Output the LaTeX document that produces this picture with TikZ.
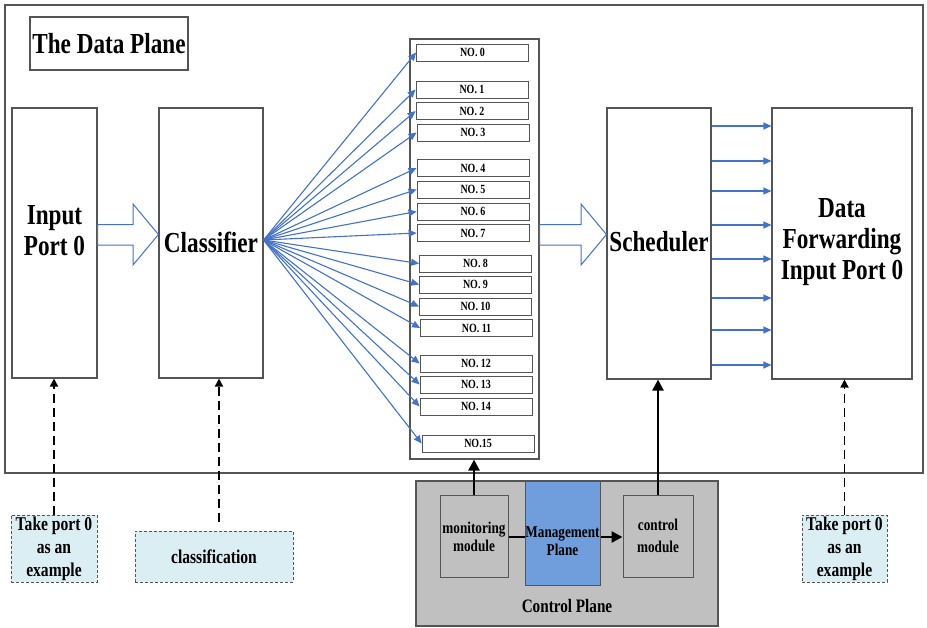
\documentclass[tikz,border=0pt]{standalone}
\usepackage{fontspec}
\setmainfont{Liberation Serif}[FakeStretch=0.8]
\usetikzlibrary{arrows.meta,calc}
\definecolor{fanblue}{RGB}{68,114,196}
\definecolor{notefill}{RGB}{218,238,243}
\definecolor{cpgray}{RGB}{192,192,192}
\definecolor{mgmtblue}{RGB}{112,157,219}
\definecolor{edge}{RGB}{85,85,85}
\begin{document}
\begin{tikzpicture}[x=1pt,y=-1pt,
  frame/.style={draw=edge, line width=1.1pt, inner sep=0pt},
  qbox/.style={draw=edge, line width=0.8pt, minimum width=112pt, minimum height=17pt, inner sep=0pt,
    font=\bfseries\fontsize{12.5}{14}\selectfont},
  bigtext/.style={font=\bfseries\fontsize{29}{31}\selectfont, align=center},
  note/.style={draw=edge, densely dashed, line width=0.7pt, fill=notefill, inner sep=0pt,
    font=\bfseries\fontsize{19.5}{23}\selectfont, align=center},
  modtext/.style={font=\bfseries\fontsize{16.5}{18}\selectfont, align=center},
  fan/.style={draw=fanblue, line width=1.1pt, -{Triangle[length=8pt,width=7pt]}},
  blk/.style={draw=black, line width=2.6pt, -{Triangle[length=11pt,width=11pt]}},
  dasharrow/.style={draw=black, line width=1.7pt, dash pattern=on 9pt off 5pt, -{Triangle[length=8pt,width=8pt]}},
  hollow/.style={draw=fanblue, line width=1pt, fill=white}
]
\useasboundingbox (0,0) rectangle (927,627);
\fill[white] (0,0) rectangle (927,627);

% data plane frame
\node[frame, minimum width=918pt, minimum height=468pt] (dp) at (464,239) {};
\node[frame, minimum width=158pt, minimum height=53pt, font=\bfseries\fontsize{29}{31}\selectfont] (title) at (109,43.5) {The Data Plane};

% main blocks
\node[frame, minimum width=85pt, minimum height=270pt] (inp) at (54.5,243) {};
\node[bigtext] (inpT) at (54.5,231) {Input\\Port 0};
\node[frame, minimum width=104pt, minimum height=270pt] (cls) at (211,243) {};
\node[bigtext] (clsT) at (211,242) {Classifier};
\node[frame, minimum width=129pt, minimum height=420pt] (queue) at (474.5,249) {};
\node[frame, minimum width=104pt, minimum height=271pt] (sch) at (659,243.5) {};
\node[bigtext] (schT) at (659,242) {Scheduler};
\node[frame, minimum width=140pt, minimum height=271pt] (fwd) at (842,243.5) {};
\node[bigtext] (fwdT) at (842,242) {Data\\Forwarding\\Input Port 0};

% queues
\foreach \i/\x/\y/\t in {0/472.5/52.5/NO. 0, 1/472/89.5/NO. 1, 2/472/111/NO. 2, 3/473/132.5/NO. 3,
  4/473/168/NO. 4, 5/473/189.5/NO. 5, 6/473/211.5/NO. 6, 7/473/233/NO. 7,
  8/475.5/263.5/NO. 8, 9/475.5/284.5/NO. 9, 10/475.5/306.5/NO. 10, 11/476.5/328/NO. 11,
  12/476/363.5/NO. 12, 13/476/384.5/NO. 13, 14/476/406.5/NO. 14, 15/478/443.5/NO.15}
  \node[qbox] (q\i) at (\x,\y) {\t};

% fan arrows
\coordinate (fo) at ($(cls.east)+(0,-3)$);
\foreach \i in {0,...,15} \draw[fan] (fo) -- (q\i.west);

% hollow block arrows
\draw[hollow] (inp.east |- 0,224.5) -- (133,224.5) -- (133,204) -- (cls.west |- 0,234.5) -- (133,265) -- (133,245) -- (inp.east |- 0,245) -- cycle;
\draw[hollow] (queue.east |- 0,224.5) -- (581,224.5) -- (581,204) -- (sch.west |- 0,234.5) -- (581,265) -- (581,245) -- (queue.east |- 0,245) -- cycle;

% scheduler to forwarding
\foreach \y in {126,161,191,225,259,298,330,365}
  \draw[fan] (sch.east |- 0,\y) -- (fwd.west |- 0,\y);

% control plane
\node[draw=edge, line width=1.1pt, fill=cpgray, minimum width=302pt, minimum height=145pt] (cp) at (567,553.5) {};
\node[font=\bfseries\fontsize{19}{20}\selectfont] (cpT) at (567,606) {Control Plane};
\node[draw=edge, line width=1pt, fill=cpgray, minimum width=68pt, minimum height=82pt] (mon) at (474,536) {};
\node[modtext] (monT) at (474,537) {monitoring\\module};
\node[draw=edge, line width=1pt, fill=mgmtblue, minimum width=75pt, minimum height=104pt] (mgmt) at (562.5,533) {};
\node[modtext] (mgmtT) at (562.5,541) {Management\\Plane};
\node[draw=edge, line width=1pt, fill=cpgray, minimum width=70pt, minimum height=82pt] (cm) at (658,536) {};
\node[modtext, font=\bfseries\fontsize{16.5}{22}\selectfont] (cmT) at (658,536) {control\\module};

\draw[black, line width=2.6pt] (mon.east |- 0,537) -- (mgmt.west |- 0,537);
\draw[blk] (mgmt.east |- 0,537) -- (cm.west |- 0,537);
\draw[blk] (mon.north) -- (mon.north |- queue.south);
\draw[blk] (cm.north) -- (cm.north |- sch.south);

% notes
\node[note, minimum width=86pt, minimum height=67pt] (n1) at (54,548.5) {Take port 0\\as an\\example};
\node[note, minimum width=158pt, minimum height=51pt] (n2) at (214,556.5) {classification};
\node[note, minimum width=85pt, minimum height=67pt] (n3) at (844.5,548.5) {Take port 0\\as an\\example};
\coordinate (n2top) at (219,522);
\draw[dasharrow] (n1.north) -- (n1.north |- inp.south);
\draw[dasharrow] (n2top) -- (n2top |- cls.south);
\draw[dasharrow] (n3.north) -- (n3.north |- fwd.south);
\end{tikzpicture}
\end{document}
